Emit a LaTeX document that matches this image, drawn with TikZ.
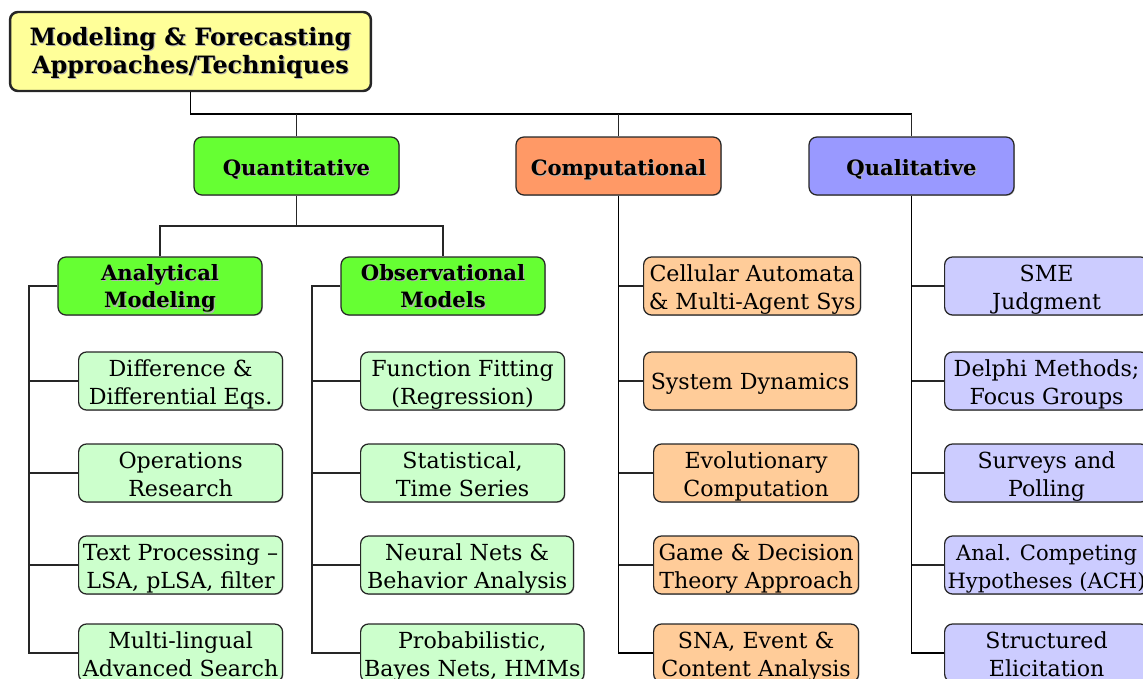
\documentclass[tikz,border=0pt]{standalone}
\usepackage{fontspec}
\setmainfont{DejaVu Serif}
\usetikzlibrary{shadows}
\definecolor{rootfill}{HTML}{FFFF99}
\definecolor{quanfill}{HTML}{66FF33}
\definecolor{compfill}{HTML}{FF9966}
\definecolor{qualfill}{HTML}{9999FF}
\definecolor{quanlite}{HTML}{CCFFCC}
\definecolor{complite}{HTML}{FFCC99}
\definecolor{quallite}{HTML}{CCCCFF}
\newcommand{\shd}[1]{\makebox[0pt][l]{\hspace{0.6pt}\raisebox{-0.6pt}{\textcolor{black!30}{#1}}}#1}

\begin{document}
\begin{tikzpicture}[x=0.02cm, y=-0.02cm,
    box/.style={draw=black!85, line width=0.7pt, rounded corners=4.5pt, align=center, inner sep=2pt,
        drop shadow={shadow xshift=0.5pt, shadow yshift=-0.5pt, fill=black!45}},
    head/.style={box, minimum width=4.1cm, minimum height=1.16cm, text height=11pt, text depth=0pt,
        font=\fontsize{12}{15.5}\selectfont\bfseries},
    headtwo/.style={head, minimum width=4.08cm, text height=25pt, text depth=0pt},
    leaf/.style={box, anchor=west, minimum width=4.08cm, minimum height=1.16cm, text height=27.2pt, text depth=0pt,
        font=\fontsize{12.6}{15.9}\selectfont},
    leafone/.style={leaf, text height=9.4pt, text depth=0pt},
    link/.style={line width=0.7pt, black!85},
    trunk/.style={line width=1.1pt}]
    \useasboundingbox (0,0) rectangle (1143,679);
    \clip (0,0) rectangle (1143,679);

    % top and first level
    \node[box, fill=rootfill, line width=1.4pt, minimum width=7.22cm, minimum height=1.58cm,
        text height=25.5pt, text depth=0pt, font=\fontsize{13.6}{16}\selectfont\bfseries] (root) at (190.5,51.5)
        {\shd{Modeling \& Forecasting}\\\shd{Approaches/Techniques}};
    \node[head, fill=quanfill] (quan) at (296.5,166) {\shd{Quantitative}};
    \node[head, fill=compfill] (comp) at (618.5,166) {\shd{Computational}};
    \node[head, fill=qualfill] (qual) at (911.5,166) {\shd{Qualitative}};
    \coordinate (bus) at (0,114);
    \draw[trunk] (root.south) |- (qual.north |- bus);
    \draw[link] (quan.north) -- (quan.north |- bus) (comp.north) -- (comp.north |- bus) (qual.north) -- (qual.north |- bus);

    % quantitative
    \node[headtwo, fill=quanfill] (ana) at (160,286) {\shd{Analytical}\\\shd{Modeling}};
    \node[headtwo, fill=quanfill] (obs) at (443,286) {\shd{Observational}\\\shd{Models}};
    \coordinate (sub) at (0,226);
    \draw[link] (quan.south) -- (quan.south |- sub);
    \draw[link] (ana.north) |- (obs.north |- sub) -- (obs.north);

    \node[leaf, fill=quanlite] (a1) at (78,381) {Difference \&\\Differential Eqs.};
    \node[leaf, fill=quanlite] (a2) at (78,473) {Operations\\Research};
    \node[leaf, fill=quanlite] (a3) at (78,565) {Text Processing --\\LSA, pLSA, filter};
    \node[leaf, fill=quanlite] (a4) at (78,653) {Multi-lingual\\Advanced Search};
    \coordinate (ta) at (29,286);
    \draw[link, line width=0.9pt] (ana.west) -- (ta) |- (a4.west);
    \draw[link] (ta |- a1.west) -- (a1.west) (ta |- a2.west) -- (a2.west) (ta |- a3.west) -- (a3.west);

    \node[leaf, fill=quanlite] (o1) at (360,381) {Function Fitting\\(Regression)};
    \node[leaf, fill=quanlite] (o2) at (360,473) {Statistical,\\Time Series};
    \node[leaf, fill=quanlite, minimum width=4.26cm] (o3) at (360,565) {Neural Nets \&\\Behavior Analysis};
    \node[leaf, fill=quanlite, minimum width=4.34cm] (o4) at (360,653) {Probabilistic,\\Bayes Nets, HMMs};
    \coordinate (to) at (312,286);
    \draw[link, line width=0.9pt] (obs.west) -- (to) |- (o4.west);
    \draw[link] (to |- o1.west) -- (o1.west) (to |- o2.west) -- (o2.west) (to |- o3.west) -- (o3.west);

    % computational
    \node[leaf, fill=complite, minimum width=4.34cm] (c1) at (643,286) {Cellular Automata\\\& Multi-Agent Sys};
    \node[leafone, fill=complite, minimum width=4.26cm] (c2) at (643,381) {System Dynamics};
    \node[leaf, fill=complite, minimum width=4.1cm] (c3) at (653,473) {Evolutionary\\Computation};
    \node[leaf, fill=complite, minimum width=4.1cm] (c4) at (653,565) {Game \& Decision\\Theory Approach};
    \node[leaf, fill=complite, minimum width=4.1cm] (c5) at (653,653) {SNA, Event \&\\Content Analysis};
    \draw[trunk] (comp.south) |- (c5.west);
    \draw[link] (comp.south |- c1.west) -- (c1.west) (comp.south |- c2.west) -- (c2.west)
        (comp.south |- c3.west) -- (c3.west) (comp.south |- c4.west) -- (c4.west);

    % qualitative
    \node[leaf, fill=quallite] (q1) at (944,286) {SME\\Judgment};
    \node[leaf, fill=quallite] (q2) at (944,381) {Delphi Methods;\\Focus Groups};
    \node[leaf, fill=quallite] (q3) at (944,473) {Surveys and\\Polling};
    \node[leaf, fill=quallite, inner xsep=1pt, font=\fontsize{12}{15.9}\selectfont] (q4) at (944,565) {Anal. Competing\\Hypotheses (ACH)};
    \node[leaf, fill=quallite] (q5) at (944,653) {Structured\\Elicitation};
    \draw[trunk] (qual.south) |- (q5.west);
    \draw[link] (qual.south |- q1.west) -- (q1.west) (qual.south |- q2.west) -- (q2.west)
        (qual.south |- q3.west) -- (q3.west) (qual.south |- q4.west) -- (q4.west);
\end{tikzpicture}
\end{document}
